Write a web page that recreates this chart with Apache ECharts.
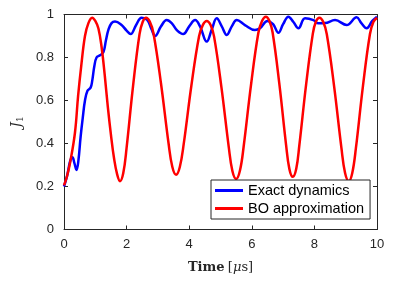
<!DOCTYPE html>
<html><head><meta charset="utf-8">
<script src="https://cdn.jsdelivr.net/npm/echarts@6/dist/echarts.min.js"></script>
<style>html,body{margin:0;padding:0;background:#fff}#c{width:395px;height:284px}</style>
</head><body><div id="c"></div>
<script>
const xTicks = [0, 2, 4, 6, 8, 10];
const yTicks = [0, 0.2, 0.4, 0.6, 0.8, 1];
const seriesNames = ['Exact dynamics', 'BO approximation'];
const exactT = [0,0.1,0.2,0.27,0.33,0.4,0.46,0.53,0.6,0.67,0.75,0.85,0.9,0.97,1.04,1.15,1.26,1.34,1.42,1.52,1.63,1.84,2.0,2.13,2.3,2.48,2.66,2.8,2.91,3.1,3.28,3.44,3.62,3.81,4.0,4.19,4.35,4.56,4.72,4.88,5.04,5.2,5.36,5.52,5.78,6.1,6.26,6.5,6.68,6.85,7.0,7.17,7.33,7.49,7.7,7.97,8.13,8.34,8.66,9.03,9.35,9.5,9.67,9.85,10.0];
const exactJ = [0.2,0.25,0.32,0.336,0.31,0.277,0.32,0.43,0.52,0.6,0.645,0.66,0.69,0.76,0.8,0.81,0.825,0.88,0.93,0.96,0.967,0.951,0.925,0.909,0.95,0.985,0.975,0.93,0.9,0.945,0.974,0.96,0.925,0.909,0.945,0.974,0.943,0.874,0.93,0.982,0.945,0.905,0.945,0.974,0.951,0.928,0.936,0.97,0.955,0.915,0.955,0.99,0.965,0.936,0.982,0.974,0.959,0.96,0.974,0.951,0.987,0.96,0.936,0.97,0.99];
const boT = [0,0.1,0.2,0.35,0.45,0.55,0.67,0.78,0.9,1.0,1.1,1.2,1.3,1.4,1.5,1.6,1.7,1.79,1.894,1.998,2.205,2.413,2.516,2.62,2.74,2.86,3.1,3.34,3.46,3.58,3.7,3.825,4.07,4.315,4.4375,4.56,4.68,4.795,5.03,5.265,5.38,5.5,5.62,5.74,5.975,6.21,6.33,6.45,6.56,6.665,6.88,7.095,7.2,7.31,7.42,7.52,7.735,7.95,8.05,8.16,8.28,8.395,8.63,8.865,8.98,9.1,9.21,9.325,9.55,9.775,9.8875,10.0];
const boJ = [0.205,0.25,0.315,0.45,0.62,0.76,0.9,0.96,0.985,0.97,0.935,0.85,0.72,0.57,0.44,0.33,0.255,0.225,0.263,0.377,0.666,0.909,0.966,0.985,0.967,0.912,0.678,0.401,0.292,0.255,0.291,0.398,0.67,0.899,0.952,0.97,0.952,0.897,0.661,0.382,0.272,0.235,0.273,0.386,0.673,0.915,0.971,0.99,0.971,0.916,0.677,0.394,0.282,0.245,0.282,0.393,0.674,0.911,0.967,0.985,0.966,0.909,0.666,0.377,0.263,0.225,0.263,0.377,0.666,0.909,0.966,0.985];

const pair = (t, v) => t.map((x, i) => [x, v[i]]);
const ax = '#262626';
const chart = echarts.init(document.getElementById('c'), null, {renderer: 'canvas'});
const xBase = {
  type: 'value', min: xTicks[0], max: xTicks[xTicks.length - 1], interval: 2,
  axisLine: {show: true, onZero: false, lineStyle: {color: ax, width: 1}},
  axisTick: {show: true, inside: true, length: 4, lineStyle: {color: ax}},
  splitLine: {show: false}
};
const yBase = {
  type: 'value', min: yTicks[0], max: yTicks[yTicks.length - 1], interval: 0.2,
  axisLine: {show: true, onZero: false, lineStyle: {color: ax, width: 1}},
  axisTick: {show: true, inside: true, length: 4, lineStyle: {color: ax}},
  splitLine: {show: false}
};
chart.setOption({
  animation: false,
  backgroundColor: '#fff',
  grid: {left: 64, right: 18, top: 14.5, bottom: 54.5, containLabel: false},
  xAxis: [
    Object.assign({}, xBase, {
      position: 'bottom',
      axisLabel: {color: ax, fontFamily: 'Liberation Sans', fontSize: 13, margin: 8,
        formatter: v => String(v)},
      name: '{b|Time} {r|[}{i|μ}{r|s]}', nameLocation: 'middle', nameGap: 32,
      nameTextStyle: {
        rich: {
          b: {fontFamily: 'DejaVu Serif', fontWeight: 'bold', fontSize: 13, color: ax},
          r: {fontFamily: 'DejaVu Serif', fontSize: 13, color: ax},
          i: {fontFamily: 'DejaVu Serif', fontStyle: 'italic', fontSize: 13, color: ax}
        }
      }
    }),
    Object.assign({}, xBase, {position: 'top', axisLabel: {show: false}})
  ],
  yAxis: [
    Object.assign({}, yBase, {
      position: 'left',
      axisLabel: {color: ax, fontFamily: 'Liberation Sans', fontSize: 13, margin: 10,
        formatter: v => String(Math.round(v * 10) / 10)},
      name: '{j|J}{s|1}', nameLocation: 'middle', nameGap: 38, nameRotate: 90,
      nameTextStyle: {
        rich: {
          j: {fontFamily: 'DejaVu Serif', fontStyle: 'italic', fontSize: 14, color: ax},
          s: {fontFamily: 'DejaVu Serif', fontSize: 9, color: ax, padding: [6, 0, 0, 0]}
        }
      }
    }),
    Object.assign({}, yBase, {position: 'right', axisLabel: {show: false}})
  ],
  legend: {
    left: 211, top: 180, orient: 'vertical',
    backgroundColor: '#fff', borderColor: ax, borderWidth: 1,
    padding: [3, 6, 3, 4], itemGap: 3, itemWidth: 28, itemHeight: 3,
    icon: 'rect',
    textStyle: {fontFamily: 'Liberation Sans', fontSize: 14.5, color: '#000'},
    data: seriesNames
  },
  series: [
    {name: seriesNames[0], type: 'line', data: pair(exactT, exactJ), smooth: 0.4,
      showSymbol: false, symbol: 'none', lineStyle: {color: '#0000FF', width: 2.5}, itemStyle: {color: '#0000FF'}},
    {name: seriesNames[1], type: 'line', data: pair(boT, boJ), smooth: 0.4,
      showSymbol: false, symbol: 'none', lineStyle: {color: '#FF0000', width: 2.5}, itemStyle: {color: '#FF0000'}}
  ]
});
</script></body></html>
